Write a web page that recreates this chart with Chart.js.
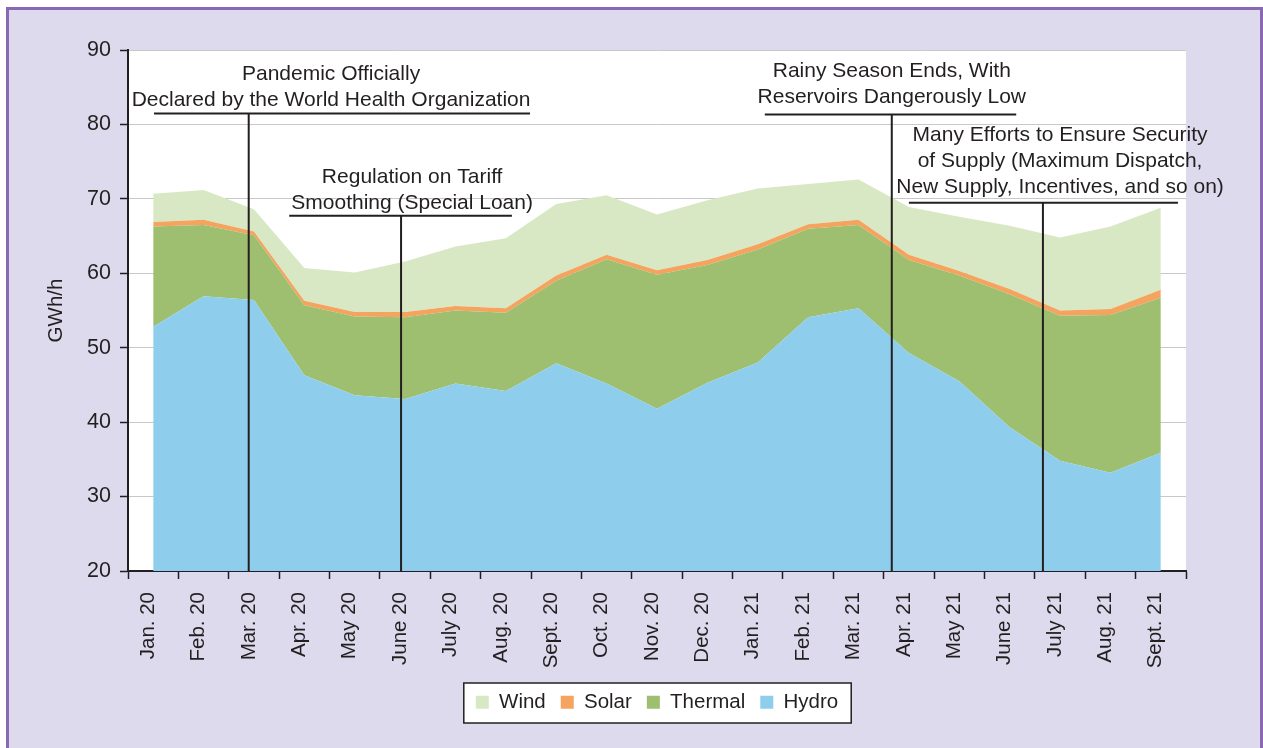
<!DOCTYPE html>
<html>
<head>
<meta charset="utf-8">
<script src="https://cdn.jsdelivr.net/npm/chart.js@4.4.1/dist/chart.umd.min.js"></script>
<style>
  html, body { margin: 0; padding: 0; background: #fff; overflow: hidden; }
  #frame {
    position: absolute; left: 6px; top: 7px;
    width: 1251px; height: 800px;
    background: #dcdaec; border: 3px solid #8b68b3;
  }
  #chart { position: absolute; left: 0; top: 0; }
</style>
</head>
<body>
<div id="frame"></div>
<canvas id="chart" width="1263" height="748"></canvas>
<script>
const months = [
  "Jan. 20", "Feb. 20", "Mar. 20", "Apr. 20", "May 20", "June 20", "July 20",
  "Aug. 20", "Sept. 20", "Oct. 20", "Nov. 20", "Dec. 20", "Jan. 21", "Feb. 21",
  "Mar. 21", "Apr. 21", "May 21", "June 21", "July 21", "Aug. 21", "Sept. 21"
];

// GWh/h by source (stacked bottom to top: hydro, thermal, solar, wind)
const hydro   = [52.8, 56.9, 56.4, 46.3, 43.6, 43.1, 45.2, 44.2, 47.9, 45.2, 41.8,
                 45.3, 48.0, 54.1, 55.3, 49.3, 45.5, 39.3, 34.8, 33.2, 35.9];
const thermal = [13.5, 9.6, 8.7, 9.4, 10.6, 11.0, 9.8, 10.5, 11.1, 16.7, 18.0,
                 15.8, 15.2, 11.9, 11.2, 12.5, 14.2, 17.9, 19.5, 21.2, 20.8];
const solar   = [0.6, 0.7, 0.5, 0.6, 0.6, 0.7, 0.6, 0.6, 0.7, 0.6, 0.6,
                 0.7, 0.7, 0.6, 0.7, 0.7, 0.6, 0.7, 0.7, 0.8, 1.1];
const wind    = [3.8, 4.0, 3.0, 4.4, 5.3, 6.8, 8.0, 9.4, 9.6, 8.0, 7.5,
                 8.0, 7.5, 5.4, 5.4, 6.4, 7.3, 8.5, 9.8, 11.1, 11.0];

const yTicks = [20, 30, 40, 50, 60, 70, 80, 90];

// annotations: positions in category index / GWh/h units
const notes = [
  { lines: ["Pandemic Officially", "Declared by the World Health Organization"],
    at: 1.896, level: 81.47, from: 0.016, to: 7.48, center: 3.53, gap: 7.5 },
  { lines: ["Regulation on Tariff", "Smoothing (Special Loan)"],
    at: 4.92, level: 67.74, from: 2.70, to: 7.12, center: 5.14, gap: 6.7 },
  { lines: ["Rainy Season Ends, With", "Reservoirs Dangerously Low"],
    at: 14.66, level: 81.33, from: 12.14, to: 17.13, center: 14.66, gap: 12 },
  { lines: ["Many Efforts to Ensure Security", "of Supply (Maximum Dispatch,", "New Supply, Incentives, and so on)"],
    at: 17.66, level: 69.48, from: 15.0, to: 20.34, center: 18.0, gap: 10 }
];

const ink = "#231f20";
const fontFamily = '"Liberation Sans", Arial, Helvetica, sans-serif';
Chart.defaults.font.family = fontFamily;
Chart.defaults.color = ink;

const backdrop = {
  id: "backdrop",
  beforeDraw(chart) {
    const { ctx, chartArea: a, legend } = chart;
    ctx.save();
    ctx.fillStyle = "#fff";
    ctx.fillRect(a.left, a.top, a.right - a.left, a.bottom - a.top);
    const boxes = legend.legendHitBoxes;
    if (boxes && boxes.length) {
      const first = boxes[0], last = boxes[boxes.length - 1];
      const l = first.left - 12, r = last.left + last.width + 13;
      const t = first.top - 9, b = first.top + 31;
      ctx.fillRect(l, t, r - l, b - t);
      ctx.strokeStyle = ink;
      ctx.lineWidth = 1.5;
      ctx.strokeRect(l, t, r - l, b - t);
    }
    ctx.restore();
  }
};

const callouts = {
  id: "callouts",
  afterDatasetsDraw(chart) {
    const { ctx, scales: { x, y }, chartArea: a } = chart;
    ctx.save();
    ctx.strokeStyle = ink;
    ctx.fillStyle = ink;
    ctx.lineWidth = 2;
    ctx.font = "21px " + fontFamily;
    ctx.textAlign = "center";
    ctx.textBaseline = "alphabetic";
    notes.forEach(n => {
      const ly = y.getPixelForValue(n.level);
      ctx.beginPath();
      ctx.moveTo(x.getPixelForValue(n.from), ly);
      ctx.lineTo(x.getPixelForValue(n.to), ly);
      const vx = x.getPixelForValue(n.at);
      ctx.moveTo(vx, ly);
      ctx.lineTo(vx, a.bottom);
      ctx.stroke();
      const cx = x.getPixelForValue(n.center);
      const count = n.lines.length;
      n.lines.forEach((txt, i) => {
        ctx.fillText(txt, cx, ly - n.gap - (count - 1 - i) * 25.8);
      });
    });
    ctx.restore();
  }
};

new Chart(document.getElementById("chart"), {
  type: "line",
  data: {
    labels: months,
    datasets: [
      { label: "Hydro", data: hydro, backgroundColor: "#8ecdeb", fill: "start" },
      { label: "Thermal", data: thermal, backgroundColor: "#9dbf6f", fill: "-1" },
      { label: "Solar", data: solar, backgroundColor: "#f5a460", fill: "-1" },
      { label: "Wind", data: wind, backgroundColor: "#d9e8c4", fill: "-1" }
    ]
  },
  options: {
    responsive: false,
    animation: false,
    layout: { padding: { left: 40, right: 77, top: 50, bottom: 25.5 } },
    elements: {
      line: { borderWidth: 0, tension: 0 },
      point: { radius: 0, hoverRadius: 0 }
    },
    plugins: {
      tooltip: { enabled: false },
      legend: {
        position: "bottom",
        fullSize: false,
        reverse: true,
        labels: { boxWidth: 13, boxHeight: 13, padding: 15, color: ink, font: { size: 20.5 } }
      }
    },
    scales: {
      x: {
        offset: true,
        z: 1,
        grid: { display: true, offset: true, drawOnChartArea: false, tickLength: 8, tickColor: ink, tickWidth: 1.5 },
        border: { display: true, color: ink, width: 2 },
        ticks: { minRotation: 90, maxRotation: 90, padding: 13, labelOffset: -5, color: ink, font: { size: 20.5 } },
        afterFit(scale) { scale.height = 106; }
      },
      y: {
        stacked: true,
        min: yTicks[0],
        max: yTicks[yTicks.length - 1],
        afterBuildTicks(scale) { scale.ticks = yTicks.map(v => ({ value: v })); },
        grid: { color: "#c8c8c8", lineWidth: 1, tickLength: 8, tickColor: ink, tickWidth: 1.5 },
        border: { display: true, color: ink, width: 2 },
        ticks: { padding: 9, color: ink, font: { size: 21.5 } },
        title: { display: true, text: "GWh/h", color: ink, font: { size: 20.5 } },
        afterFit(scale) { scale.width = 88; }
      }
    }
  },
  plugins: [backdrop, callouts]
});
</script>
</body>
</html>
